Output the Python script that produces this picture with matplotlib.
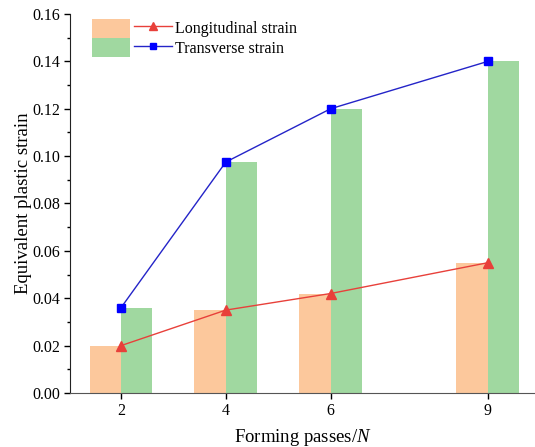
import numpy as np
import matplotlib
matplotlib.use("Agg")
import matplotlib.pyplot as plt

passes = [2, 4, 6, 9]
longitudinal = [0.020, 0.035, 0.042, 0.055]
transverse = [0.036, 0.0975, 0.120, 0.140]

plt.rcParams['font.family'] = ['Liberation Serif', 'DejaVu Serif']
plt.rcParams['mathtext.fontset'] = 'custom'
plt.rcParams['mathtext.rm'] = 'Liberation Serif'
plt.rcParams['mathtext.it'] = 'Liberation Serif:italic'

fig = plt.figure(figsize=(5.35, 4.47), dpi=100)
ax = fig.add_axes([70/535, 1 - 393/447, 465/535, 379/447])

w = 0.6
x = np.array(passes, dtype=float)
b1 = ax.bar(x - w/2, longitudinal, width=w, color='#fcc89c', zorder=1)
b2 = ax.bar(x + w/2, transverse, width=w, color='#a0d8a0', zorder=1)
l1, = ax.plot(x, longitudinal, color='#e8403a', marker='^', markersize=7, lw=1, zorder=3)
l2, = ax.plot(x, transverse, color='#2424c8', marker='s', markersize=6,
              markerfacecolor='#0000ff', markeredgecolor='#0000ff', lw=1, zorder=3)

ax.set_xlim(1.027, 9.9)
ax.set_ylim(0, 0.16)
ax.set_xticks(passes)
yt = np.arange(0, 0.161, 0.02)
ax.set_yticks(yt)
ax.set_yticklabels([f"{v:.2f}" for v in yt])
ax.set_yticks(np.arange(0.01, 0.16, 0.02), minor=True)
ax.tick_params(axis='both', direction='out', labelsize=11.5, length=4, width=1, pad=3)
ax.tick_params(axis='y', which='minor', direction='out', length=2.5, width=1)
for s in ['top', 'right']:
    ax.spines[s].set_visible(False)
ax.spines['left'].set_color('#222222')
ax.spines['bottom'].set_color('#555555')

ax.set_xlabel('Forming passes/$\\it{N}$', fontsize=13.5, labelpad=6)
ax.set_ylabel('Equivalent plastic strain', fontsize=13.5, labelpad=0)

ax.legend([b1, b2, l1, l2], ['', '', 'Longitudinal strain', 'Transverse strain'],
          ncol=2, loc='upper left', bbox_to_anchor=(0.047, 0.988),
          frameon=False, fontsize=11.5, handlelength=2.4, handleheight=1.45,
          labelspacing=0.05, columnspacing=0.06, handletextpad=0.18,
          borderpad=0, borderaxespad=0, markerscale=0.8)

fig.savefig('out.png', dpi=100)
